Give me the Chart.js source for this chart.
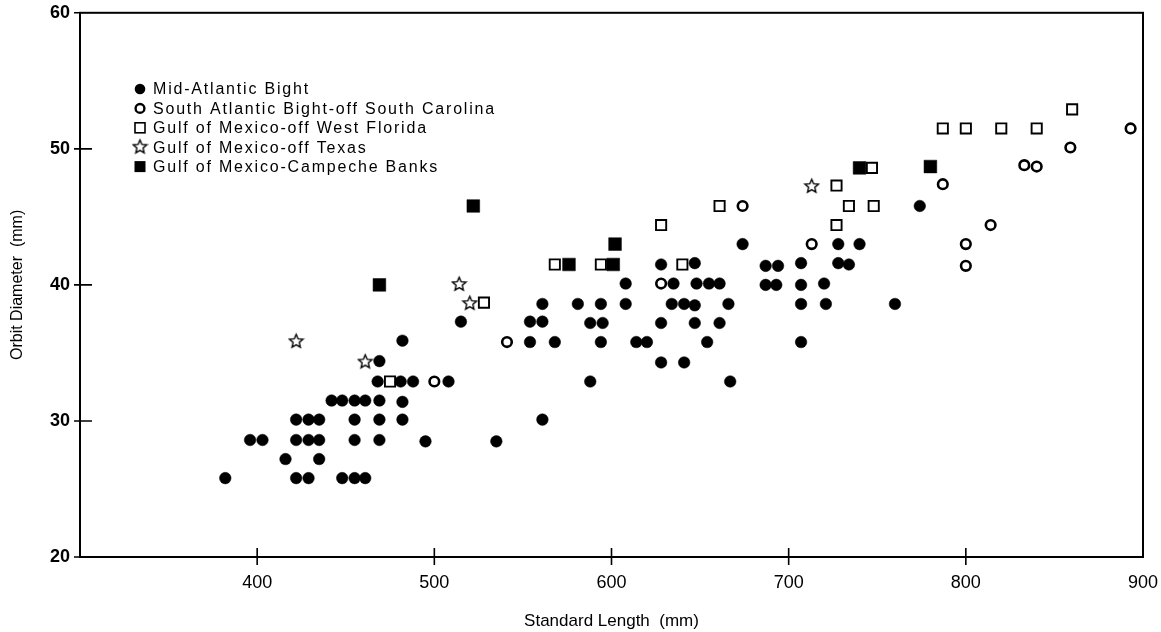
<!DOCTYPE html>
<html>
<head>
<meta charset="utf-8">
<script src="https://cdn.jsdelivr.net/npm/chart.js@4.4.1/dist/chart.umd.min.js"></script>
<style>
html, body { margin: 0; padding: 0; background: #fff; }
#wrap { width: 1161px; height: 632px; }
</style>
</head>
<body>
<div id="wrap"><canvas id="myChart" width="1161" height="632"></canvas></div>
<script>
// standard length (mm) -> orbit diameter (mm)
const midAtlanticX = [382, 396, 403, 416, 422, 422, 422, 429, 429, 429, 435, 435, 435, 442, 448, 448,
  455, 455, 455, 455, 461, 461, 469, 468, 469, 469, 469, 482, 481, 482, 482, 488, 495, 508, 515, 535,
  554, 554, 561, 561, 561, 568, 581, 588, 588, 594, 595, 594, 608, 608, 614, 620, 628, 628, 628,
  635, 634, 641, 641, 647, 648, 647, 647, 655, 654, 661, 661, 666, 667, 674, 687, 687, 694, 693,
  707, 707, 707, 707, 720, 721, 728, 728, 734, 740, 760, 774];
const midAtlanticY = [25.8, 28.6, 28.6, 27.2, 30.1, 28.6, 25.8, 30.1, 28.6, 25.8, 30.1, 28.6, 27.2, 31.5, 31.5, 25.8,
  31.5, 30.1, 28.6, 25.8, 31.5, 25.8, 34.4, 32.9, 31.5, 30.1, 28.6, 35.9, 32.9, 31.4, 30.1, 32.9, 28.5, 32.9, 37.3, 28.5,
  37.3, 35.8, 38.6, 37.3, 30.1, 35.8, 38.6, 37.2, 32.9, 38.6, 37.2, 35.8, 40.1, 38.6, 35.8, 35.8, 41.5, 37.2, 34.3,
  40.1, 38.6, 38.6, 34.3, 41.6, 40.1, 38.5, 37.2, 40.1, 35.8, 40.1, 37.2, 38.6, 32.9, 43.0, 41.4, 40.0, 41.4, 40.0,
  41.6, 40.0, 38.6, 35.8, 40.1, 38.6, 43.0, 41.6, 41.5, 43.0, 38.6, 45.8];

const southAtlanticX = [500, 541, 628, 674, 713, 787, 800, 800, 814, 833, 840, 859, 893];
const southAtlanticY = [32.9, 35.8, 40.1, 45.8, 43.0, 47.4, 43.0, 41.4, 44.4, 48.8, 48.7, 50.1, 51.5];

const westFloridaX = [475, 528, 568, 594, 628, 640, 661, 727, 727, 734, 747, 748, 787, 800, 820, 840, 860];
const westFloridaY = [32.9, 38.7, 41.5, 41.5, 44.4, 41.5, 45.8, 47.3, 44.4, 45.8, 48.6, 45.8, 51.5, 51.5, 51.5, 51.5, 52.9];

const texasX = [422, 461, 514, 520, 713];
const texasY = [35.9, 34.4, 40.1, 38.7, 47.3];

const campecheX = [469, 522, 576, 601, 602, 740, 780];
const campecheY = [40.0, 45.8, 41.5, 41.5, 43.0, 48.6, 48.7];

const seriesNames = [
  'Mid-Atlantic Bight',
  'South Atlantic Bight-off South Carolina',
  'Gulf of Mexico-off West Florida',
  'Gulf of Mexico-off Texas',
  'Gulf of Mexico-Campeche Banks'
];
const xTicks = [400, 500, 600, 700, 800, 900];
const yTicks = [20, 30, 40, 50, 60];

function pairs(xs, ys) {
  return xs.map((x, i) => ({ x: x, y: ys[i] }));
}

// five point outline star, chart.js 'star' is an asterisk
function makeStar(size, lw) {
  const c = document.createElement('canvas');
  c.width = size;
  c.height = size;
  const g = c.getContext('2d');
  const cx = size / 2, cy = size / 2 + 0.8;
  const R = size / 2 - lw, r = R * 0.46;
  g.beginPath();
  for (let i = 0; i < 10; i++) {
    const a = -Math.PI / 2 + i * Math.PI / 5;
    const rr = i % 2 ? r : R;
    g.lineTo(cx + rr * Math.cos(a), cy + rr * Math.sin(a));
  }
  g.closePath();
  g.fillStyle = '#fff';
  g.fill();
  g.lineWidth = lw;
  g.lineJoin = 'miter';
  g.strokeStyle = '#000';
  g.stroke();
  return c;
}
const starImg = makeStar(17, 1.4);

const styles = [
  { pointStyle: 'circle', pointRadius: 5.8, backgroundColor: '#000', borderColor: '#000', borderWidth: 0.5 },
  { pointStyle: 'circle', pointRadius: 4.8, backgroundColor: '#fff', borderColor: '#000', borderWidth: 2.6 },
  { pointStyle: 'rect', pointRadius: 7.2, backgroundColor: '#fff', borderColor: '#000', borderWidth: 1.9 },
  { pointStyle: starImg, pointRadius: 8, backgroundColor: '#fff', borderColor: '#000', borderWidth: 1 },
  { pointStyle: 'rect', pointRadius: 9, backgroundColor: '#000', borderColor: '#000', borderWidth: 0.5 }
];
const seriesData = [
  pairs(midAtlanticX, midAtlanticY),
  pairs(southAtlanticX, southAtlanticY),
  pairs(westFloridaX, westFloridaY),
  pairs(texasX, texasY),
  pairs(campecheX, campecheY)
];

const datasets = seriesData.map((d, i) => Object.assign({ label: seriesNames[i], data: d }, styles[i]));

// box around the plot and ticks that cross the axis lines
const framePlugin = {
  id: 'frame',
  afterDraw(chart) {
    const ctx = chart.ctx;
    const a = chart.chartArea;
    const xs = chart.scales.x, ys = chart.scales.y;
    ctx.save();
    ctx.strokeStyle = '#000';
    ctx.lineWidth = 2;
    ctx.strokeRect(a.left, a.top, a.right - a.left, a.bottom - a.top);
    ctx.lineWidth = 1.6;
    ctx.beginPath();
    yTicks.forEach(v => {
      const py = ys.getPixelForValue(v);
      ctx.moveTo(a.left - 6, py);
      ctx.lineTo(v === 20 || v === 60 ? a.left : a.left + 12, py);
    });
    xTicks.forEach(v => {
      if (v === 900) return;
      const px = xs.getPixelForValue(v);
      ctx.moveTo(px, a.bottom - 9);
      ctx.lineTo(px, a.bottom + 8);
    });
    ctx.stroke();
    ctx.restore();
  }
};

// legend inside the plot, top left
const legendPlugin = {
  id: 'innerLegend',
  afterDatasetsDraw(chart) {
    const ctx = chart.ctx;
    const mx = 140, tx = 153, y0 = 89, step = 19.4;
    ctx.save();
    ctx.font = '16px "Liberation Sans", Arial, sans-serif';
    ctx.letterSpacing = '1.8px';
    ctx.fillStyle = '#000';
    ctx.textBaseline = 'middle';
    seriesNames.forEach((name, i) => {
      const y = y0 + i * step;
      ctx.strokeStyle = '#000';
      ctx.fillStyle = '#000';
      ctx.beginPath();
      if (i === 0) {
        ctx.arc(mx, y, 5.3, 0, Math.PI * 2);
        ctx.fill();
      } else if (i === 1) {
        ctx.lineWidth = 2.4;
        ctx.arc(mx, y, 4.4, 0, Math.PI * 2);
        ctx.stroke();
      } else if (i === 2) {
        ctx.lineWidth = 1.6;
        ctx.strokeRect(mx - 5, y - 5, 10, 10);
      } else if (i === 3) {
        ctx.drawImage(starImg, mx - starImg.width / 2, y - starImg.height / 2 - 1);
      } else {
        ctx.fillRect(mx - 5.5, y - 5.5, 11, 11);
      }
      ctx.fillStyle = '#000';
      ctx.fillText(name, tx, y + 1);
    });
    ctx.restore();
  }
};

const ctx = document.getElementById('myChart').getContext('2d');
const config = {
  type: 'scatter',
  data: { datasets: datasets },
  options: {
    responsive: false,
    animation: false,
    events: [],
    layout: { padding: { left: 8, right: 4, top: 6, bottom: 0 } },
    plugins: {
      legend: { display: false },
      tooltip: { enabled: false }
    },
    scales: {
      x: {
        type: 'linear',
        min: 300,
        max: 900,
        afterFit(scale) {
          scale.height = 75;
          scale.paddingRight = 18;
        },
        grid: { display: false },
        border: { display: true, color: '#000', width: 2 },
        ticks: {
          stepSize: 100,
          padding: 7,
          color: '#000',
          font: { family: '"Liberation Sans", Arial, sans-serif', size: 18 },
          callback: v => (v === 300 ? '' : v)
        },
        title: {
          display: true,
          text: 'Standard Length  (mm)',
          color: '#000',
          font: { family: '"Liberation Sans", Arial, sans-serif', size: 17 },
          padding: { top: 0, bottom: 0 }
        }
      },
      y: {
        type: 'linear',
        min: 20,
        max: 60,
        afterFit(scale) { scale.width = 72; },
        grid: { display: false },
        border: { display: true, color: '#000', width: 2 },
        ticks: {
          stepSize: 10,
          padding: 2,
          color: '#000',
          font: { family: '"Liberation Sans", Arial, sans-serif', size: 18, weight: 'bold' }
        },
        title: {
          display: true,
          text: 'Orbit Diameter  (mm)',
          color: '#000',
          font: { family: '"Liberation Sans", Arial, sans-serif', size: 16 },
          padding: { top: 0, bottom: 0 }
        }
      }
    }
  },
  plugins: [framePlugin, legendPlugin]
};
const myChart = new Chart(ctx, config);
</script>
</body>
</html>
